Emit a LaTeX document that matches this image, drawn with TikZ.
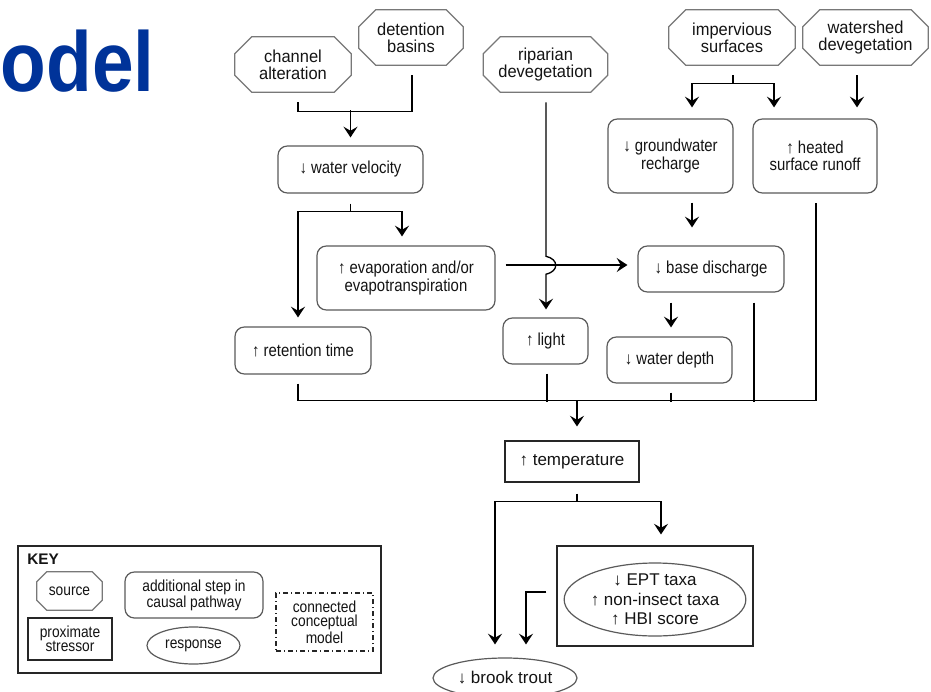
\documentclass[tikz,border=0pt]{standalone}
\usepackage{fontspec}
\setmainfont{Liberation Sans}
\newfontfamily\fsrc{Liberation Sans}[FakeStretch=0.95]
\newfontfamily\fstep{Liberation Sans}[FakeStretch=0.86]
\newfontfamily\fplain{Liberation Sans}
\newfontfamily\ftitle{Liberation Sans}[FakeStretch=0.88]
\usetikzlibrary{shapes.geometric,arrows.meta,calc}
\definecolor{titleblue}{RGB}{0,51,153}
\definecolor{edgegray}{RGB}{120,120,120}
\definecolor{boxgray}{RGB}{90,90,90}
\definecolor{txt}{RGB}{20,20,20}
\newcommand\drawocta[2]{%
  \draw[octline] ($(#1.north west)+(#2,0)$) -- ($(#1.north east)+(-#2,0)$)
    -- ($(#1.north east)+(0,#2)$) -- ($(#1.south east)+(0,-#2)$)
    -- ($(#1.south east)+(-#2,0)$) -- ($(#1.south west)+(#2,0)$)
    -- ($(#1.south west)+(0,-#2)$) -- ($(#1.north west)+(0,#2)$) -- cycle;}
\tikzset{
  octline/.style={draw=edgegray, line width=0.9pt},
  src/.style={rectangle, inner sep=0pt, align=center, text=txt,
    font=\fsrc\fontsize{13}{12.75}\selectfont},
  stepbox/.style={rectangle, rounded corners=7pt, draw=boxgray, line width=0.9pt,
    inner sep=0pt, align=center, text=txt,
    font=\fstep\fontsize{13}{13}\selectfont},
  prox/.style={rectangle, draw=black!85, line width=0.8pt, inner sep=0pt,
    align=center, text=txt, font=\fplain\fontsize{12.75}{14.4}\selectfont},
  resp/.style={ellipse, draw=boxgray, line width=0.9pt, inner sep=0pt,
    align=center, text=txt, font=\fplain\fontsize{12.75}{14.4}\selectfont},
  keyfont/.style={font=\fstep\fontsize{12}{10.8}\selectfont},
  conn/.style={rectangle, draw=black!85, line width=0.8pt,
    dash pattern=on 4pt off 2pt on 1pt off 2pt, inner sep=0pt, align=center,
    text=txt},
  ln/.style={line width=1pt, draw=black},
  arr/.style={ln, -{Stealth[length=8pt,width=10.5pt,inset=3pt]}}
}
\begin{document}
\begin{tikzpicture}[x=0.75pt,y=-0.75pt]
\useasboundingbox (0,0) rectangle (931,692);
\fill[white] (0,0) rectangle (931,692);
\clip (0,0) rectangle (931,692);

% title fragment
\node[anchor=base east, inner sep=0pt, text=titleblue,
  font=\ftitle\bfseries\fontsize{63.75}{64}\selectfont] (title) at (155,92) {odel};

% sources
\node[src, minimum width=87pt, minimum height=41.25pt] (ca) at (293,64.5) {channel\\alteration};
\node[src, minimum width=78pt, minimum height=41.25pt] (db) at (411,37.5) {detention\\basins};
\node[src, minimum width=93pt, minimum height=41.25pt] (rd) at (545.5,64.5) {riparian\\devegetation};
\node[src, minimum width=94.5pt, minimum height=41.25pt] (is) at (732,37.5) {impervious\\surfaces};
\node[src, minimum width=93.75pt, minimum height=41.25pt] (wd) at (865.5,37.5) {watershed\\devegetation};
\drawocta{ca}{17}
\drawocta{db}{17}
\drawocta{rd}{17}
\drawocta{is}{17}
\drawocta{wd}{17}

% additional steps
\node[stepbox, minimum width=108.75pt, minimum height=35.25pt] (wv) at (350.5,169.5) {↓ water velocity};
\node[stepbox, minimum width=93.75pt, minimum height=55.5pt] (gr) at (670.5,156) {↓ groundwater\\recharge};
\node[stepbox, minimum width=93pt, minimum height=55.5pt] (hr) at (815,156) {↑ heated\\surface runoff};
\node[stepbox, minimum width=133.5pt, minimum height=48pt] (ev) at (406,278) {↑ evaporation and/or\\evapotranspiration};
\node[stepbox, minimum width=102pt, minimum height=35.25pt] (rt) at (303,350.5) {↑ retention time};
\node[stepbox, minimum width=109.5pt, minimum height=34.5pt] (bd) at (711,269) {↓ base discharge};
\node[stepbox, minimum width=63.75pt, minimum height=34.5pt] (li) at (545.5,341) {↑ light};
\node[stepbox, minimum width=93.75pt, minimum height=34.5pt] (wdp) at (669.5,360) {↓ water depth};

% stressor and responses
\node[prox, minimum width=100.5pt, minimum height=30.75pt] (te) at (572,461.5) {↑ temperature};
\node[prox, minimum width=147pt, minimum height=75pt] (box) at (655,596) {};
\node[resp, minimum width=132pt, minimum height=54.75pt] (ept) at (655,599.5) {↓ EPT taxa\\↑ non-insect taxa\\↑ HBI score};
\node[resp, minimum width=108pt, minimum height=30pt] (bt) at (505,678) {↓ brook trout};

% connectors
\draw[ln] ($(ca.south)+(5,10)$) -- ++(0,9) -| ($(db.south)+(1,10)$);
\draw[arr] ($(wv.north)+(0,-35)$) -- ($(wv.north)+(0,-8)$);
\draw[arr] ($(wv.south)+(0,10)$) -- ++(0,8) -| ($(rt.north)+(-5,-9)$);
\draw[arr] ($(wv.south)+(0,18)$) -| ($(ev.north)+(-4,-9)$);

\coordinate (hop) at ($(rd.south)+(0.5,173)$);
\draw[arr] ($(rd.south)+(0.5,10)$) -- ($(hop)+(0,-9)$)
   .. controls ($(hop)+(13,-6)$) and ($(hop)+(13,6)$) .. ($(hop)+(0,9)$)
   -- ($(li.north)+(0.5,-8)$);
\draw[arr] ($(ev.east)+(10,-13)$) -- ($(bd.west)+(-10,-4)$);

\draw[arr] ($(is.south)+(1,10)$) -- ++(0,8) -| ($(gr.north)+(21.5,-11)$);
\draw[arr] ($(is.south)+(1,18)$) -| ($(hr.north)+(-41,-11)$);
\draw[arr] ($(wd.south)+(-8.5,10)$) -- ($(hr.north)+(42,-11)$);
\draw[arr] ($(gr.south)+(21.5,9)$) -- ($(bd.north)+(-19,-18)$);
\draw[arr] ($(bd.south)+(-40,10)$) -- ($(wdp.north)+(1.5,-9)$);

\coordinate (coll) at ($(te.north)+(5,-40)$);
\draw[ln] ($(rt.south)+(-5,9)$) |- (coll) -| ($(hr.south)+(1,9)$);
\draw[ln] ($(li.south)+(1.5,9)$) -- ++(0,28);
\draw[ln] ($(wdp.south)+(1.5,9)$) -- ++(0,9);
\draw[ln] ($(bd.south)+(43,10)$) -- ++(0,99);
\draw[arr] (coll) -- ($(te.north)+(5,-14)$);

\draw[arr] ($(te.south)+(5,11)$) -- ++(0,8) -| ($(bt.north)+(-10,-13)$);
\draw[arr] ($(te.south)+(5,19)$) -| ($(box.north)+(6,-11)$);
\draw[arr] ($(box.west)+(-10,-4)$) -| ($(bt.north)+(21,-13)$);

% key
\node[rectangle, draw=black!85, line width=0.8pt, minimum width=272.25pt, minimum height=95.25pt, inner sep=0pt] (key) at (199.5,609.5) {};
\node[anchor=base west, inner sep=0pt, text=txt, font=\fplain\bfseries\fontsize{11.5}{12}\selectfont] (keyt) at (27,564) {KEY};
\node[src, keyfont, minimum width=48.75pt, minimum height=28.5pt] (ksrc) at (69.5,591) {source};
\drawocta{ksrc}{10}
\node[prox, keyfont, minimum width=63pt, minimum height=31.5pt] (kprox) at (70,639) {proximate\\stressor};
\node[stepbox, keyfont, minimum width=103.5pt, minimum height=34.5pt] (kstep) at (194,595) {additional step in\\causal pathway};
\node[resp, keyfont, minimum width=69.75pt, minimum height=27.75pt] (kresp) at (193.5,645.5) {response};
\node[conn, keyfont, minimum width=72.75pt, minimum height=43.5pt] (kconn) at (324.5,622) {connected\\conceptual\\model};
\end{tikzpicture}
\end{document}
